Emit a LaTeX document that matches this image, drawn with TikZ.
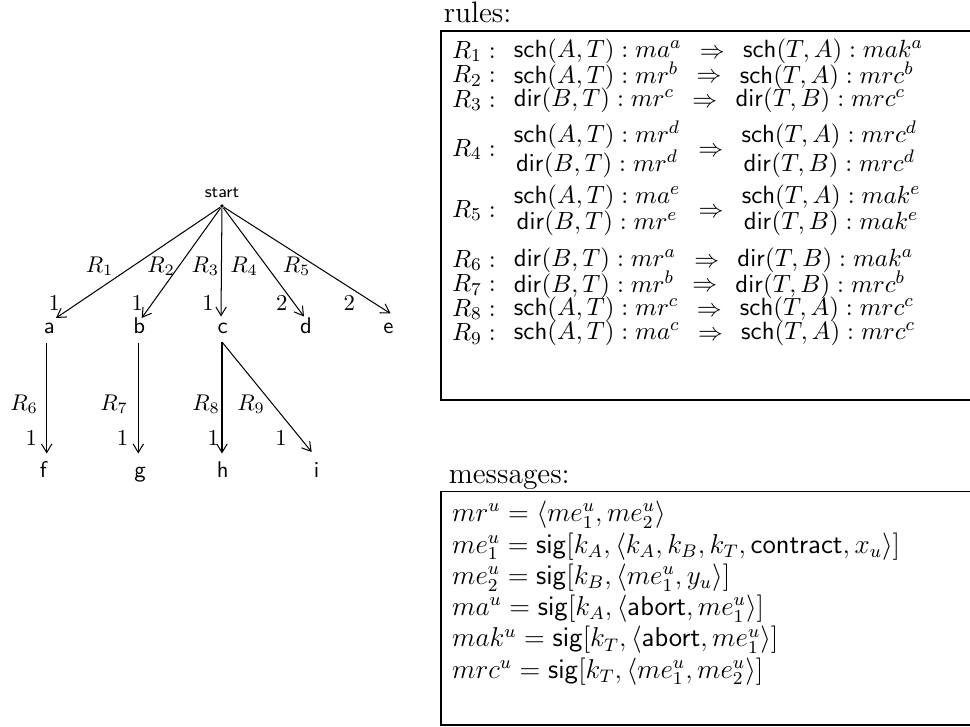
\documentclass[tikz,border=0pt]{standalone}
\usepackage{amsmath}
\usetikzlibrary{arrows.meta}
\newcommand{\Fsch}{\mathsf{sch}}
\newcommand{\Fdir}{\mathsf{dir}}
\newcommand{\Fsig}{\mathsf{sig}}
\newcommand{\Fab}{\mathsf{abort}}
\newcommand{\Fcon}{\mathsf{contract}}
\newcommand{\RL}[2]{\begin{array}{c}#1\end{array}\Rightarrow\begin{array}{c}#2\end{array}}
\setlength{\arraycolsep}{5pt}
\renewcommand{\arraystretch}{0.87}
\begin{document}
\begin{tikzpicture}[x=0.44pt,y=-0.44pt,
  every node/.style={inner sep=0pt},
  edge/.style={-{Straight Barb[length=3.8pt,width=4.6pt]},line width=0.45pt},
  tl/.style={anchor=base,font=\fontsize{10}{12}\selectfont},
  st/.style={anchor=base,font=\fontsize{10}{12}\selectfont\sffamily},
  rrow/.style={anchor=base west,font=\fontsize{10.8}{13}\selectfont},
  mrow/.style={anchor=base west,font=\fontsize{11.5}{13.8}\selectfont},
  head/.style={anchor=base west,font=\fontsize{13}{15.6}\selectfont},
  frame/.style={draw,line width=0.6pt}]
\useasboundingbox (0,0) rectangle (970,726);

% ---------- tree ----------
\node[anchor=base,font=\fontsize{7.5}{9}\selectfont\sffamily] (startlbl) at (222,197) {start};
\node[circle,fill,minimum size=1.6pt] (s) at (222,206) {};

\node[st] (a) at (49.3,333) {a};
\node[st] (b) at (139.3,333) {b};
\node[st] (c) at (222.7,333) {c};
\node[st] (d) at (306,333) {d};
\node[st] (e) at (388.3,333) {e};
\node[st] (f) at (43.3,477) {f};
\node[st] (g) at (140,477) {g};
\node[st] (h) at (222.7,477) {h};
\node[st] (i) at (316.7,477) {i};

\coordinate (ain) at (56,318);
\coordinate (bin) at (141.7,318);
\coordinate (cin) at (221,316.5);
\coordinate (din) at (304,316.5);
\coordinate (ein) at (390.5,313.5);

\draw[edge] (s) -- (ain);
\draw[edge] (s) -- (bin);
\draw[edge] (s) -- (cin);
\draw[edge] (s) -- (din);
\draw[edge] (s) -- (ein);

\coordinate (aout) at (46.7,343);
\coordinate (bout) at (138.3,343);
\coordinate (cout) at (222,342);
\coordinate (fin) at (46.7,453.5);
\coordinate (gin) at (138.3,453.5);
\coordinate (hin) at (222,453.5);
\coordinate (iin) at (311.7,452);

\draw[edge] (aout) -- (fin);
\draw[edge] (bout) -- (gin);
\draw[edge] (cout) -- (hin);
\draw[edge] (cout) -- (iin);

\node[tl] (l1) at (99.7,272) {$R_1$};
\node[tl] (l2) at (161,272) {$R_2$};
\node[tl] (l3) at (205.3,272) {$R_3$};
\node[tl] (l4) at (244,272) {$R_4$};
\node[tl] (l5) at (296.7,272) {$R_5$};
\node[tl] (w1) at (54.3,310) {$1$};
\node[tl] (w2) at (137.3,310) {$1$};
\node[tl] (w3) at (208,310) {$1$};
\node[tl] (w4) at (281.7,310) {$2$};
\node[tl] (w5) at (349.3,310) {$2$};

\node[tl] (l6) at (24,410) {$R_6$};
\node[tl] (l7) at (114,410) {$R_7$};
\node[tl] (l8) at (206,410) {$R_8$};
\node[tl] (l9) at (251,410) {$R_9$};
\node[tl] (w6) at (31.3,445) {$1$};
\node[tl] (w7) at (122.5,445) {$1$};
\node[tl] (w8) at (213.3,445) {$1$};
\node[tl] (w9) at (281,445) {$1$};

% ---------- rules ----------
\node[head] (rh) at (443.3,22) {rules:};
\draw[frame] (441,31) rectangle (990,400);
\node[rrow] (r1) at (451.7,58) {$R_1 : \RL{\Fsch(A,T) : ma^a}{\Fsch(T,A) : mak^a}$};
\node[rrow] (r2) at (451.7,82.5) {$R_2 : \RL{\Fsch(A,T) : mr^b}{\Fsch(T,A) : mrc^b}$};
\node[rrow] (r3) at (451.7,107) {$R_3 : \RL{\Fdir(B,T) : mr^c}{\Fdir(T,B) : mrc^c}$};
\node[rrow] (r4) at (451.7,156) {$R_4 : \RL{\Fsch(A,T) : mr^d\\ \Fdir(B,T) : mr^d}{\Fsch(T,A) : mrc^d\\ \Fdir(T,B) : mrc^d}$};
\node[rrow] (r5) at (451.7,217) {$R_5 : \RL{\Fsch(A,T) : ma^e\\ \Fdir(B,T) : mr^e}{\Fsch(T,A) : mak^e\\ \Fdir(T,B) : mak^e}$};
\node[rrow] (r6) at (451.7,267) {$R_6 : \RL{\Fdir(B,T) : mr^a}{\Fdir(T,B) : mak^a}$};
\node[rrow] (r7) at (451.7,291.5) {$R_7 : \RL{\Fdir(B,T) : mr^b}{\Fdir(T,B) : mrc^b}$};
\node[rrow] (r8) at (451.7,316) {$R_8 : \RL{\Fsch(A,T) : mr^c}{\Fsch(T,A) : mrc^c}$};
\node[rrow] (r9) at (451.7,340.5) {$R_9 : \RL{\Fsch(A,T) : ma^c}{\Fsch(T,A) : mrc^c}$};

% ---------- messages ----------
\node[head] (mh) at (448.3,483) {messages:};
\draw[frame] (441,491.7) rectangle (990,725);
\node[mrow] (m1) at (451.7,521.7) {$mr^u = \langle me_1^u, me_2^u\rangle$};
\node[mrow] (m2) at (451.7,553) {$me_1^u = \Fsig[k_A, \langle k_A, k_B, k_T, \Fcon, x_u\rangle]$};
\node[mrow] (m3) at (451.7,584.3) {$me_2^u = \Fsig[k_B, \langle me_1^u, y_u\rangle]$};
\node[mrow] (m4) at (451.7,615.6) {$ma^u = \Fsig[k_A, \langle \Fab, me_1^u\rangle]$};
\node[mrow] (m5) at (451.7,646.9) {$mak^u = \Fsig[k_T, \langle \Fab, me_1^u\rangle]$};
\node[mrow] (m6) at (451.7,678.2) {$mrc^u = \Fsig[k_T, \langle me_1^u, me_2^u\rangle]$};
\end{tikzpicture}
\end{document}
